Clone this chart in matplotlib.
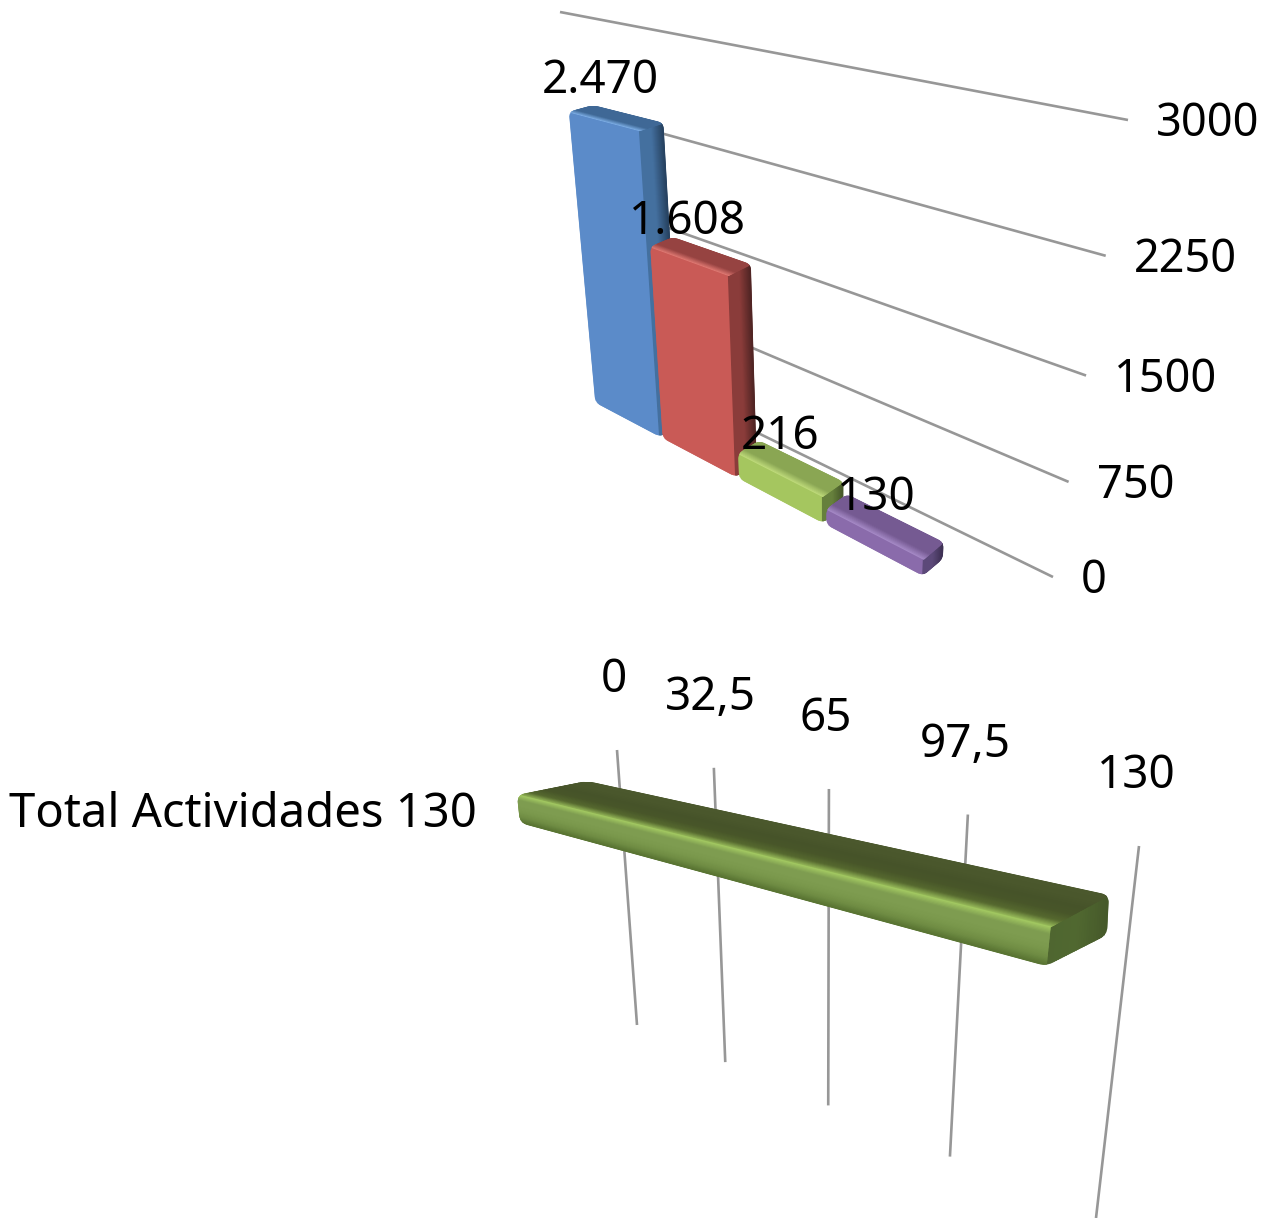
import matplotlib
matplotlib.use('Agg')
import matplotlib.pyplot as plt
from matplotlib.colors import to_rgb
from matplotlib.patches import Polygon, PathPatch
from matplotlib.path import Path
import numpy as np

plt.rcParams['font.family'] = ['Noto Sans', 'DejaVu Sans']

# data
bar_values = [2470, 1608, 216, 130]
bar_labels = ['2.470', '1.608', '216', '130']
value_ticks = [0, 750, 1500, 2250, 3000]
total_name = 'Total Actividades 130'
total_value = 130
total_ticks = [0, 32.5, 65, 97.5, 130]
total_tick_labels = ['0', '32,5', '65', '97,5', '130']

# face colours: front, bevel, top, side (light), side (dark)
bar_colors = [
    ('#5b8bc9', '#7fb0e8', '#3f6896', '#44709f', '#26415f'),
    ('#c95a56', '#e27a74', '#964341', '#8a3c3a', '#4e2423'),
    ('#a5c65f', '#c0dc7c', '#8aa653', '#66803c', '#465729'),
    ('#8a6bab', '#a78bc8', '#755a92', '#5c4979', '#3d3052'),
]
GRID = '#979797'


def homography(src, dst):
    # 4 point solve, maps plot coordinates to pixels of the picture
    rows, rhs = [], []
    for (u, v), (x, y) in zip(src, dst):
        rows.append([u, v, 1, 0, 0, 0, -u * x, -v * x])
        rows.append([0, 0, 0, u, v, 1, -u * y, -v * y])
        rhs += [x, y]
    h = np.linalg.solve(np.array(rows, float), np.array(rhs, float))
    return np.append(h, 1).reshape(3, 3)


def project(h, u, v):
    p = h @ np.array([u, v, 1.0])
    return p[:2] / p[2]


def rounded_outline(ax, points, radius):
    # invisible patch with rounded corners, used to clip the faces of a bar
    pts = [np.array(p, float) for p in points]
    verts, codes = [], []
    for i, p in enumerate(pts):
        prev, nxt = pts[i - 1], pts[(i + 1) % len(pts)]
        r = min(radius, np.linalg.norm(prev - p) / 2, np.linalg.norm(nxt - p) / 2)
        start = p + (prev - p) / np.linalg.norm(prev - p) * r
        end = p + (nxt - p) / np.linalg.norm(nxt - p) * r
        verts += [start, p, end]
        codes += [Path.MOVETO if i == 0 else Path.LINETO, Path.CURVE3, Path.CURVE3]
    verts.append(verts[0])
    codes.append(Path.CLOSEPOLY)
    patch = PathPatch(Path(verts, codes), fc='none', ec='none')
    ax.add_patch(patch)
    return patch


def gradient_quad(ax, a, b, c, d, stops, clip, n=24, zorder=2):
    # strips going from edge a-b to edge d-c, colour taken from the stops
    pos = np.linspace(0, 1, len(stops))
    rgb = np.array([to_rgb(s) for s in stops])
    a, b, c, d = map(np.array, (a, b, c, d))
    for i in range(n):
        t0, t1 = i / n, (i + 1) / n
        col = [np.interp((t0 + t1) / 2, pos, rgb[:, k]) for k in range(3)]
        quad = [a + (d - a) * t0, b + (c - b) * t0, b + (c - b) * t1, a + (d - a) * t1]
        strip = Polygon(quad, closed=True, fc=col, ec=col, lw=1.0, zorder=zorder)
        ax.add_patch(strip)
        strip.set_clip_path(clip)


fig = plt.figure(figsize=(12.73, 12.18), dpi=100)
ax = fig.add_axes([0, 0, 1, 1])
ax.set_xlim(0, 1273)
ax.set_ylim(1218, 0)
ax.axis('off')

# upper chart, plot coordinates are (category position, value)
n_cat = len(bar_values)
v_max = value_ticks[-1]
plane = [(0, 0), (n_cat, 0), (0, v_max), (n_cat, v_max)]
front = homography(plane, [(594, 402), (925, 577), (561, 40), (945, 116)])
back = homography(plane, [(615, 392), (945, 560), (586, 35), (965, 106)])
wall = homography(plane, [(592, 352), (1053, 577), (560, 12), (1128, 120)])

for tick in value_ticks:
    # only the top line shows its left end, the others start behind the first bar
    start = 0 if tick == v_max else 0.4
    p0, p1 = project(wall, start, tick), project(wall, n_cat, tick)
    ax.plot([p0[0], p1[0]], [p0[1], p1[1]], color=GRID, lw=1.9, zorder=1, solid_capstyle='butt')
    ax.text(p1[0] + 28, p1[1] + 4, str(tick), fontsize=32.5, ha='left', va='center', zorder=5)

for i, val in enumerate(bar_values):
    col_front, col_bevel, col_top, col_side, col_dark = bar_colors[i]
    u0, u1 = i + 0.02, i + 0.98
    fl, fr = project(front, u0, 0), project(front, u1, 0)
    tl, tr = project(front, u0, val), project(front, u1, val)
    bl, br = project(back, u0, val), project(back, u1, val)
    br0 = project(back, u1, 0)
    z = 2 + i * 0.1
    clip = rounded_outline(ax, [tl, bl, br, br0, fr, fl], 6)
    # front face, then side and top with their shading
    gradient_quad(ax, tl, fl, fr, tr, [col_front, col_front], clip, n=1, zorder=z)
    gradient_quad(ax, tr, fr, br0, br, [col_side, col_side, col_dark], clip, zorder=z + 0.01)
    gradient_quad(ax, tl, tr, br, bl, [col_bevel, col_top, col_top, col_top], clip, zorder=z + 0.02)
    top_mid = project(front, (u0 + u1) / 2, val)
    ax.text(top_mid[0] - 3 + 2 * i, top_mid[1] - 40 + 1.5 * i, bar_labels[i], fontsize=33,
            ha='center', va='center', zorder=5)

# lower chart, plot coordinates are (value, 0 top .. 1 bottom)
t_max = total_ticks[-1]
plane2 = [(0, 0), (t_max, 0), (0, 1), (t_max, 1)]
grid2 = homography(plane2, [(617, 750), (1139, 846), (637, 1025), (1096, 1218)])
bar_front = homography(plane2, [(517, 795), (1050, 927), (520, 823), (1046, 966)])
bar_back = homography(plane2, [(587, 781), (1109, 895), (590, 810), (1107, 935)])

for tick, lab in zip(total_ticks, total_tick_labels):
    p0, p1 = project(grid2, tick, 0), project(grid2, tick, 1)
    ax.plot([p0[0], p1[0]], [p0[1], p1[1]], color=GRID, lw=1.9, zorder=1, solid_capstyle='butt')
    ax.text(p0[0] - 3, p0[1] - 70, lab, fontsize=33, ha='center', va='center', zorder=5)

ftl, ftr = project(bar_front, 0, 0), project(bar_front, total_value, 0)
fbl, fbr = project(bar_front, 0, 1), project(bar_front, total_value, 1)
btl, btr = project(bar_back, 0, 0), project(bar_back, total_value, 0)
bbr = project(bar_back, total_value, 1)
clip2 = rounded_outline(ax, [ftl, btl, btr, bbr, fbr, fbl], 8)
gradient_quad(ax, ftr, fbr, bbr, btr, ['#4f6630', '#506830', '#46592a'], clip2, zorder=2)
gradient_quad(ax, ftl, ftr, btr, btl, ['#a4cb62', '#56692f', '#485629', '#465329', '#4a572c', '#4b582d'],
              clip2, n=40, zorder=2)
gradient_quad(ax, ftl, ftr, fbr, fbl,
              ['#a4cb62', '#7e9c50', '#7e9c50', '#7a984c', '#6f8c43', '#587332'], clip2, n=30, zorder=2.1)

mid = project(bar_front, 0, 0.5)
ax.text(mid[0] - 42, mid[1] + 5, total_name, fontsize=34, ha='right', va='center', zorder=5)

fig.savefig('out.png', dpi=100)
